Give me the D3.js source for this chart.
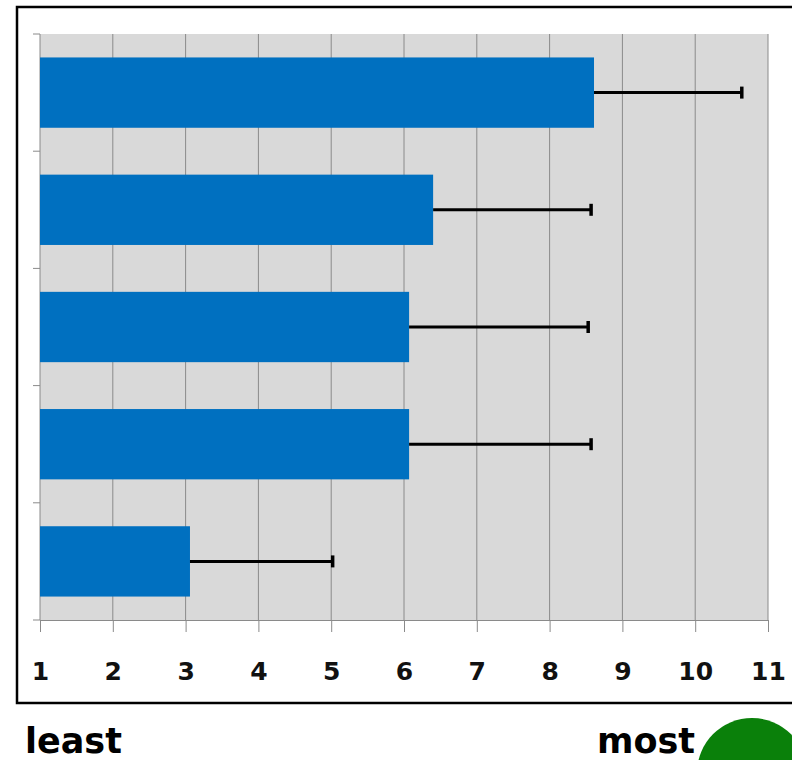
<!DOCTYPE html>
<html>
<head>
<meta charset="utf-8">
<script src="https://cdn.jsdelivr.net/npm/d3@7"></script>
<style>
    body { margin: 0; background: #ffffff; }
    svg { display: block; }
</style>
</head>
<body>
<div id="chart"><svg></svg></div>
<script>
// values
var categories = ["q1", "q2", "q3", "q4", "q5"];
var means = [8.61, 6.40, 6.07, 6.07, 3.06];
var errors = [2.03, 2.17, 2.46, 2.50, 1.96];
var tickValues = [1, 2, 3, 4, 5, 6, 7, 8, 9, 10, 11];
var endLabels = ["least", "most"];

var width = 792, height = 760;
var svg = d3.select("#chart svg").attr("width", width).attr("height", height);

var x = d3.scaleLinear().domain([1, 11]).range([40, 768]);
var y = d3.scaleBand().domain(categories).range([34, 620]).paddingInner(0.4).paddingOuter(0.2);

// outer frame
svg.append("rect")
    .attr("x", 17).attr("y", 7)
    .attr("width", 900).attr("height", 696)
    .style("fill", "#ffffff")
    .style("stroke", "#000000")
    .style("stroke-width", 2.5);

// plot background
svg.append("rect")
    .attr("x", x(1)).attr("y", 34)
    .attr("width", x(11) - x(1)).attr("height", 620 - 34)
    .style("fill", "#d9d9d9");

// vertical grid
svg.append("g")
    .selectAll("line")
    .data(tickValues.slice(1))
    .enter().append("line")
    .attr("x1", function(d) { return x(d); })
    .attr("x2", function(d) { return x(d); })
    .attr("y1", 34).attr("y2", 620)
    .style("stroke", "#8a8a8a")
    .style("stroke-width", 1);

// bottom axis
var xAxis = svg.append("g")
    .attr("transform", "translate(0,620)")
    .call(d3.axisBottom(x).tickValues(tickValues).tickSize(12).tickSizeOuter(0).tickPadding(30));
xAxis.select(".domain").style("stroke", "#8a8a8a");
xAxis.selectAll(".tick line").style("stroke", "#8a8a8a");
xAxis.selectAll("text")
    .style("font-family", "'DejaVu Sans', sans-serif")
    .style("font-weight", "bold")
    .style("font-size", "25px")
    .style("fill", "#111111");

// left axis: tick marks on band edges
var edges = categories.map(function(c) { return y(c) - y.step() * y.paddingInner() / 2; });
edges[0] = 34;
edges.push(620);
svg.append("line")
    .attr("x1", x(1)).attr("x2", x(1))
    .attr("y1", 34).attr("y2", 620)
    .style("stroke", "#8a8a8a");
svg.append("g")
    .selectAll("line")
    .data(edges)
    .enter().append("line")
    .attr("x1", x(1) - 7).attr("x2", x(1))
    .attr("y1", function(d) { return d; })
    .attr("y2", function(d) { return d; })
    .style("stroke", "#8a8a8a");

// bars
svg.append("g")
    .selectAll("rect")
    .data(means)
    .enter().append("rect")
    .attr("x", x(1))
    .attr("y", function(d, i) { return y(categories[i]); })
    .attr("width", function(d) { return x(d) - x(1); })
    .attr("height", y.bandwidth())
    .style("fill", "#0070c0");

// error bars (upper side only)
var eb = svg.append("g")
    .selectAll("g")
    .data(means)
    .enter().append("g");
eb.append("line")
    .attr("x1", function(d) { return x(d); })
    .attr("x2", function(d, i) { return x(d + errors[i]); })
    .attr("y1", function(d, i) { return y(categories[i]) + y.bandwidth() / 2; })
    .attr("y2", function(d, i) { return y(categories[i]) + y.bandwidth() / 2; })
    .style("stroke", "#000000")
    .style("stroke-width", 3);
eb.append("line")
    .attr("x1", function(d, i) { return x(d + errors[i]); })
    .attr("x2", function(d, i) { return x(d + errors[i]); })
    .attr("y1", function(d, i) { return y(categories[i]) + y.bandwidth() / 2 - 6; })
    .attr("y2", function(d, i) { return y(categories[i]) + y.bandwidth() / 2 + 6; })
    .style("stroke", "#000000")
    .style("stroke-width", 3.5);

// green marker bottom right
svg.append("circle")
    .attr("cx", 752).attr("cy", 773).attr("r", 55)
    .style("fill", "#0a800a");

// end labels
svg.append("text")
    .attr("x", 25).attr("y", 753)
    .text(endLabels[0])
    .style("font-family", "'DejaVu Sans', sans-serif")
    .style("font-weight", "bold")
    .style("font-size", "35px")
    .style("fill", "#000000");
svg.append("text")
    .attr("x", 695).attr("y", 753)
    .attr("text-anchor", "end")
    .text(endLabels[1])
    .style("font-family", "'DejaVu Sans', sans-serif")
    .style("font-weight", "bold")
    .style("font-size", "35px")
    .style("fill", "#000000");
</script>
</body>
</html>
